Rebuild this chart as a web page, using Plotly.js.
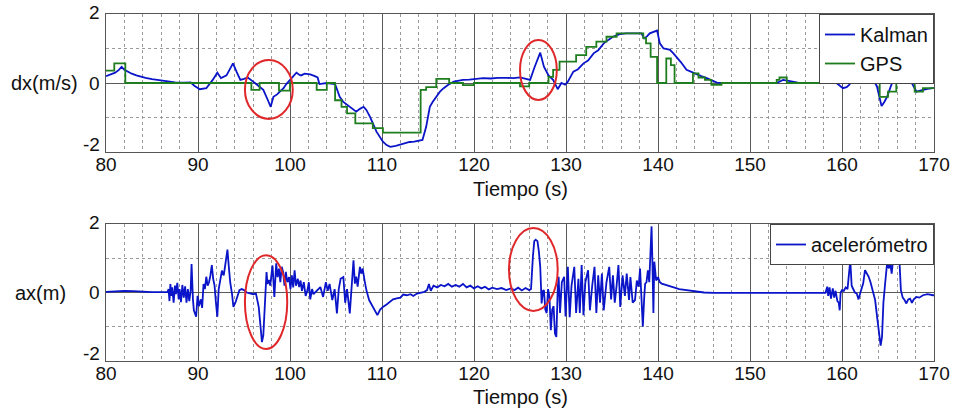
<!DOCTYPE html>
<html>
<head>
<meta charset="utf-8">
<script src="https://cdn.plot.ly/plotly-3.0.1.min.js"></script>
<style>html,body{margin:0;padding:0;background:#fff}#chart{width:957px;height:413px}</style>
</head>
<body>
<div id="chart"></div>
<script>
// ---- Data ----
const kalmanT = [80,80.5,81,81.4,81.7,82.0,82.3,82.8,83.3,83.7,84.3,85,85.5,86.1,86.6,87.5,88.5,89.2,89.6,90.2,90.9,91.3,91.6,92.1,92.5,93.1,93.5,93.8,94.2,94.6,95.0,95.4,96.0,96.6,97.1,97.6,97.9,98.2,98.6,98.9,99.3,99.6,100.2,100.7,101.0,101.2,101.6,102.2,102.7,103.0,103.2,104.0,104.9,105.4,105.8,106.5,106.9,107.2,107.6,108.0,108.3,108.7,109.4,110.1,110.5,110.9,111.5,112.0,112.5,113.0,113.5,114.1,114.4,114.8,115.2,115.5,115.9,116.3,116.7,117.2,117.8,118.3,118.8,119.5,120.2,121.0,121.8,122.6,123.6,124.3,125.0,125.6,126.1,126.6,127.2,127.6,128.1,128.6,128.9,129.1,129.5,129.9,130.2,130.5,130.8,131.3,131.9,132.4,133.0,133.5,134.1,134.6,135.1,135.5,135.9,136.5,137.0,137.5,138.0,138.2,138.5,138.8,139.1,139.5,139.9,140.2,140.6,141.0,141.3,141.7,142.0,142.5,143.1,143.6,144.2,144.7,145.3,145.9,146.4,147.0,147.8,149,150.5,152.0,152.9,153.3,153.6,154.2,154.7,155.2,156.5,158.0,159.4,160.1,160.5,160.8,161.2,161.6,162.0,162.4,162.7,163.0,163.3,163.8,164.3,164.6,164.9,165.3,165.6,166.0,166.3,166.7,167.0,167.4,167.8,168.1,168.5,168.8,169.3,169.9,170];
const kalmanV = [0.2,0.25,0.3,0.38,0.47,0.38,0.33,0.27,0.22,0.2,0.15,0.11,0.09,0.06,0.04,0.02,0.01,0.02,-0.08,-0.18,-0.15,-0.02,0.09,0.3,0.14,0.22,0.4,0.57,0.32,0.09,0.12,0.16,0.04,-0.08,-0.2,-0.5,-0.69,-0.40,-0.33,-0.25,-0.15,-0.03,0.14,0.3,0.24,0.22,0.27,0.25,0.2,0.16,-0.03,0.0,-0.03,-0.4,-0.55,-0.69,-0.75,-0.83,-0.75,-0.69,-0.78,-0.98,-1.41,-1.70,-1.8,-1.85,-1.82,-1.78,-1.76,-1.71,-1.7,-1.67,-1.65,-1.27,-0.69,-0.55,-0.4,-0.25,-0.15,-0.05,0.04,0.07,0.09,0.1,0.12,0.14,0.13,0.15,0.15,0.14,0.16,0.12,0.09,0.47,0.88,0.47,0.22,0.09,-0.1,-0.18,0.0,-0.05,0.04,0.2,0.33,0.4,0.57,0.65,0.86,0.95,1.15,1.25,1.34,1.38,1.42,1.44,1.44,1.45,1.44,1.44,1.29,1.35,1.44,1.48,1.52,1.15,1.0,0.98,0.96,0.85,0.76,0.6,0.38,0.32,0.26,0.2,0.14,0.06,0.01,0.0,0.0,0.0,0.0,0.0,0.0,0.05,0.09,0.06,0.04,0.01,0.0,0.0,0.0,-0.15,-0.12,-0.05,0.12,0.08,0.04,0.15,0.26,0.2,0.14,-0.1,-0.67,-0.55,-0.4,-0.1,0.09,0.28,0.45,0.55,0.3,0.09,-0.1,-0.25,-0.22,-0.2,-0.17,-0.15,-0.15];

const gpsT = [80,80.9,82.1,95.8,96.7,98.8,100.0,102.9,104.0,104.9,105.6,106.2,107.1,109.0,110.1,114.2,114.8,115.9,117.3,118.8,120.0,125.0,126.0,128.1,128.6,129.3,131.1,132.2,133.3,134.4,135.5,138.4,138.7,139.2,139.9,140.9,141.4,141.8,143.8,144.4,145.1,145.8,146.9,152.9,153.2,154.0,164.1,165.0,165.9,167.9,168.8,170];
const gpsV = [0.36,0.57,0,-0.2,0,-0.22,0,-0.2,0,-0.5,-0.69,-0.88,-1.17,-1.31,-1.44,-0.2,-0.12,0.12,0,-0.06,0,-0.1,0,0.18,0.38,0.62,0.81,1.05,1.2,1.34,1.44,1.3,1.15,0.76,0,0.71,0.52,0,0.28,0.16,0.09,-0.05,0,0.09,0.16,0,-0.4,-0.25,0,-0.25,-0.15,-0.15];

const accT = [80,81,82,83,84,85,86,86.7,86.8,86.9,87.0,87.1,87.2,87.35,87.5,87.6,87.75,87.9,88.0,88.15,88.3,88.45,88.6,88.75,88.9,89.05,89.2,89.3,89.45,89.55,89.8,89.95,90.1,90.3,90.45,90.6,90.75,90.9,91.05,91.2,91.35,91.5,91.65,91.8,91.95,92.1,92.25,92.4,92.6,92.8,93.0,93.2,93.35,93.5,93.7,93.85,94.1,94.3,94.5,94.75,95.0,95.3,95.7,96.0,96.3,96.6,96.8,96.95,97.1,97.3,97.45,97.55,97.7,97.85,98.0,98.1,98.3,98.5,98.65,98.8,98.95,99.1,99.25,99.4,99.55,99.7,99.9,100.05,100.2,100.35,100.5,100.65,100.85,101.0,101.15,101.3,101.5,101.7,101.9,102.05,102.2,102.4,102.55,103.3,103.6,103.9,104.1,104.3,104.6,104.85,105.1,105.3,105.5,105.8,106.0,106.2,106.5,106.7,106.9,107.05,107.2,107.35,107.6,107.75,107.9,108.1,108.3,108.6,109.0,109.5,109.8,110.1,110.5,110.9,111.2,111.6,112.0,112.3,112.7,113.1,113.4,113.8,114.2,114.6,114.9,115.1,115.3,115.6,116.0,116.4,116.8,117.2,117.6,118.0,118.4,118.8,119.2,119.6,120.0,120.4,120.8,121.2,121.6,122.0,122.5,123.0,123.5,124.0,124.4,124.8,125.2,125.6,126.0,126.2,126.4,126.55,126.7,126.9,127.05,127.2,127.35,127.5,127.6,127.75,127.9,128.05,128.2,128.35,128.5,128.65,128.8,128.95,129.1,129.2,129.35,129.55,129.8,129.95,130.2,130.4,130.6,130.9,131.1,131.35,131.5,131.7,131.9,132.1,132.4,132.6,132.85,133.1,133.3,133.5,133.7,133.9,134.1,134.4,134.7,134.9,135.1,135.3,135.5,135.7,135.9,136.15,136.4,136.6,136.85,137.0,137.25,137.5,137.7,137.9,138.05,138.2,138.35,138.5,138.6,138.75,138.9,139.05,139.15,139.3,139.4,139.5,139.6,139.7,139.8,140.0,140.2,140.4,140.8,141.3,141.8,142.3,142.8,143.5,144.2,145.0,146,148,150,152,154,156,158.2,158.4,158.5,158.65,158.8,159.0,159.15,159.3,159.5,159.65,159.75,159.85,160.0,160.2,160.4,160.6,160.75,160.9,161.05,161.2,161.4,161.6,161.8,162.0,162.3,162.5,162.7,162.9,163.1,163.3,163.6,163.9,164.1,164.2,164.35,164.5,164.7,164.9,165.1,165.2,165.4,165.6,165.75,165.9,166.1,166.25,166.4,166.6,166.8,167.0,167.2,167.4,167.6,167.8,168.1,168.4,168.8,169.3,169.9,170];
const accV = [0.02,0.04,0.05,0.04,0.02,0.01,0.01,0.02,0.1,-0.25,0.25,-0.1,0.15,-0.3,0.2,-0.05,0.28,-0.2,0.1,-0.28,0.22,-0.15,0.18,-0.3,0.1,-0.25,0.05,0.83,-0.2,-0.52,-0.71,-0.1,-0.4,-0.2,-0.45,0.25,0.1,0.46,0.2,0.3,0.5,0.8,0.4,0.2,-0.3,-0.71,0.1,0.3,0.64,0.5,0.84,1.25,0.75,0.3,-0.05,-0.42,-0.27,-0.1,0.07,0.1,0.07,0.0,-0.03,-0.05,-0.03,-0.42,-1.0,-1.45,-1.25,-0.22,0.6,0.25,0.37,0.2,0.5,0.79,-0.13,0.85,0.45,0.7,0.3,0.75,0.6,0.2,0.6,0.3,0.45,0.1,0.5,0.15,0.65,0.2,0.4,0.16,0.35,0.05,0.3,-0.1,0.07,0.3,-0.2,0.1,-0.05,0.16,-0.13,0.3,0.05,0.25,-0.22,0.1,-0.61,0.1,0.4,0.45,-0.3,0.1,-0.61,0.2,0.94,0.26,0.46,0.17,0.75,0.55,0.7,0.36,0.07,-0.22,-0.42,-0.66,-0.5,-0.42,-0.35,-0.27,-0.2,-0.17,-0.15,-0.06,-0.08,-0.05,-0.1,-0.03,0.0,0.02,0.07,0.25,0.05,0.2,0.15,0.22,0.18,0.25,0.17,0.22,0.17,0.25,0.15,0.2,0.12,0.18,0.12,0.17,0.09,0.14,0.1,0.13,0.07,0.12,0.07,0.14,0.06,0.13,0.07,0.1,1.04,1.5,1.54,1.5,1.2,0.75,-0.32,0.05,0.07,-0.5,-0.6,0.1,-0.13,-1.1,-0.5,-0.4,-1.2,-1.3,0.1,0.46,-0.6,0.3,0.46,-0.7,0.75,-0.72,0.2,0.75,-0.6,0.4,-0.6,0.8,-0.66,0.3,0.65,-0.52,0.2,0.75,-0.6,0.5,-0.3,0.55,-0.52,0.3,0.75,-0.2,0.5,-0.3,0.2,0.8,-0.42,0.5,-0.1,0.55,-0.22,0.45,-0.3,-0.22,0.35,0.17,0.7,-0.1,-1.0,-0.15,0.25,0.3,0.65,0.3,0.8,1.93,0.8,-0.6,0.9,0.5,0.35,0.45,0.3,0.26,0.22,0.18,0.14,0.1,0.08,0.04,0.02,0.0,-0.01,-0.01,-0.01,-0.01,-0.01,-0.01,-0.01,0.17,-0.1,0.15,-0.18,0.12,-0.15,0.05,-0.25,-0.3,-0.52,0.0,0.07,0.05,0.15,0.1,0.5,0.94,0.2,0.1,0.0,-0.03,-0.2,0.0,0.26,0.65,0.55,0.46,0.3,0.12,-0.22,-0.9,-1.4,-1.55,-1.3,-0.3,0.3,0.85,0.7,0.94,0.55,1.08,1.0,1.15,1.15,0.9,0.07,-0.15,-0.22,-0.32,-0.2,-0.18,-0.3,-0.2,-0.13,-0.15,-0.08,-0.05,-0.08,-0.08];

const xTicks = [80,90,100,110,120,130,140,150,160,170];
const yTicks = [-2,0,2];
const legendNames = ['Kalman','GPS','acelerómetro'];
const yLabels = ['dx(m/s)','ax(m)'];
const xLabel = 'Tiempo (s)';
// highlighted regions (red ellipses): [x0,x1,y0,y1]
const ellipsesTop = [[95.1,100.3,-1.04,0.67],[125.0,129.0,-0.49,1.25]];
const ellipsesBot = [[95.1,99.7,-1.65,1.09],[123.8,129.1,-0.54,1.88]];

// ---- Styling ----
const FONT = 'Liberation Sans, Arial, sans-serif';
const FS = 20;
const TFS = 19;
const BLUE = '#0a14c8';
const GREEN = '#1e7d1e';
const RED = '#e0282a';
const TXT = '#111';

const traces = [
  {x: kalmanT, y: kalmanV, name: legendNames[0], type: 'scatter', mode: 'lines',
   line: {color: BLUE, width: 1.8}, xaxis: 'x', yaxis: 'y', legend: 'legend'},
  {x: gpsT, y: gpsV, name: legendNames[1], type: 'scatter', mode: 'lines',
   line: {color: GREEN, width: 1.8, shape: 'hv'}, xaxis: 'x', yaxis: 'y', legend: 'legend'},
  {x: accT, y: accV, name: legendNames[2], type: 'scatter', mode: 'lines',
   line: {color: BLUE, width: 1.8}, xaxis: 'x2', yaxis: 'y2', legend: 'legend2'}
];

function xax(anchor) {
  return {
    anchor: anchor, domain: [0, 1], range: [80, 170], tickvals: xTicks,
    ticktext: xTicks.map(String), showgrid: true, gridcolor: '#5a5a5a', gridwidth: 1,
    zeroline: false, showline: true, mirror: true, linecolor: '#555', linewidth: 1,
    ticks: '', ticklabelstandoff: -5, tickfont: {family: FONT, size: TFS, color: TXT},
    minor: {dtick: 2, tick0: 80, showgrid: true, gridcolor: '#9a9a9a', griddash: 'dot', gridwidth: 1}
  };
}
function yax(anchor, domain) {
  return {
    anchor: anchor, domain: domain, range: [-2, 2], tickvals: yTicks,
    showticklabels: false, showgrid: true, gridcolor: '#5a5a5a', gridwidth: 1,
    zeroline: false, showline: true, mirror: true, linecolor: '#555', linewidth: 1,
    ticks: '',
    minor: {dtick: 1, showgrid: true, gridcolor: '#9a9a9a', griddash: 'dot', gridwidth: 1}
  };
}

const shapes = [];
ellipsesTop.forEach(e => shapes.push({type: 'circle', xref: 'x', yref: 'y', x0: e[0], x1: e[1], y0: e[2], y1: e[3], line: {color: RED, width: 2}, layer: 'above'}));
ellipsesBot.forEach(e => shapes.push({type: 'circle', xref: 'x2', yref: 'y2', x0: e[0], x1: e[1], y0: e[2], y1: e[3], line: {color: RED, width: 2}, layer: 'above'}));

const topDom = [0.6023, 1];
const botDom = [0, 0.3948];

const legendStyle = {
  xanchor: 'right', x: 1, yanchor: 'top', bgcolor: '#ffffff',
  bordercolor: '#444', borderwidth: 1, font: {family: FONT, size: FS, color: TXT},
  tracegroupgap: 0, itemwidth: 30
};

// y tick labels (placed at the y-axis values; the bottom label sits a little higher, as in the reference)
const annotations = [];
['y', 'y2'].forEach(yr => {
  yTicks.forEach(v => {
    annotations.push({text: String(v), xref: 'paper', yref: yr, x: 0, y: v, xshift: -4,
      yshift: v === -2 ? 8 : (v === 2 ? 2 : 0), xanchor: 'right', yanchor: 'middle',
      showarrow: false, font: {family: FONT, size: TFS, color: TXT}});
  });
});
annotations.push(
  {text: yLabels[0], xref: 'paper', yref: 'y', x: -0.0737, y: 0, xanchor: 'center', yanchor: 'middle', showarrow: false, font: {family: FONT, size: FS, color: TXT}},
  {text: yLabels[1], xref: 'paper', yref: 'y2', x: -0.079, y: 0, xanchor: 'center', yanchor: 'middle', showarrow: false, font: {family: FONT, size: FS, color: TXT}},
  {text: xLabel, xref: 'paper', yref: 'paper', x: 0.5, y: 0.4957, xanchor: 'center', yanchor: 'middle', showarrow: false, font: {family: FONT, size: FS, color: TXT}},
  {text: xLabel, xref: 'paper', yref: 'paper', x: 0.5, y: -0.1037, xanchor: 'center', yanchor: 'middle', showarrow: false, font: {family: FONT, size: FS, color: TXT}}
);

const layout = {
  width: 957, height: 413,
  margin: {l: 106, r: 23, t: 14, b: 52},
  paper_bgcolor: '#fff', plot_bgcolor: '#fff',
  showlegend: true,
  xaxis: xax('y'),
  yaxis: yax('x', topDom),
  xaxis2: xax('y2'),
  yaxis2: yax('x2', botDom),
  legend: Object.assign({}, legendStyle, {y: 1}),
  legend2: Object.assign({}, legendStyle, {y: 0.3948}),
  shapes: shapes,
  annotations: annotations
};

Plotly.newPlot('chart', traces, layout, {displayModeBar: false, staticPlot: true});
</script>
</body>
</html>
